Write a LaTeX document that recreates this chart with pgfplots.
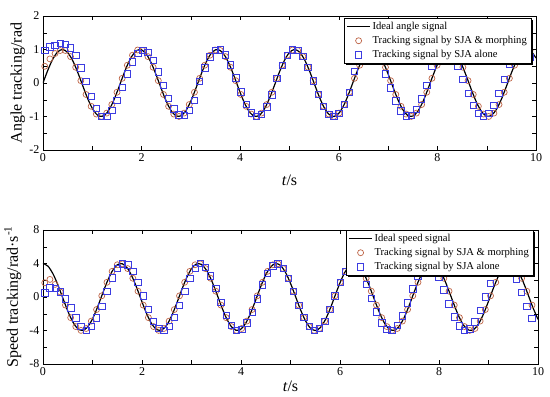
\documentclass[border=0pt]{standalone}
\usepackage{fontspec}
\setmainfont{Liberation Serif}
\usepackage{pgfplots}
\pgfplotsset{compat=1.18}
\usepackage{pgfplotstable}
\definecolor{cred}{RGB}{190,100,70}
\definecolor{cblue}{RGB}{60,60,225}

\pgfplotstableread{
t a s
0.0 0 4
0.1 0.3894 3.684
0.2 0.7174 2.787
0.3 0.9320 1.450
0.4 0.9996 -0.117
0.5 0.9093 -1.664
0.6 0.6755 -2.950
0.7 0.3350 -3.769
0.8 -0.0584 -3.993
0.9 -0.4425 -3.587
1.0 -0.7568 -2.614
1.1 -0.9516 -1.229
1.2 -0.9962 0.350
1.3 -0.8835 1.874
1.4 -0.6313 3.102
1.5 -0.2794 3.841
1.6 0.1165 3.973
1.7 0.4941 3.478
1.8 0.7937 2.434
1.9 0.9679 1.005
2.0 0.9894 -0.582
2.1 0.8546 -2.077
2.2 0.5849 -3.244
2.3 0.2229 -3.899
2.4 -0.1743 -3.939
2.5 -0.5440 -3.356
2.6 -0.8278 -2.244
2.7 -0.9809 -0.778
2.8 -0.9792 0.812
2.9 -0.8228 2.273
3.0 -0.5366 3.376
3.1 -0.1656 3.945
3.2 0.2315 3.891
3.3 0.5920 3.223
3.4 0.8592 2.047
3.5 0.9906 0.547
3.6 0.9657 -1.039
3.7 0.7883 -2.461
3.8 0.4864 -3.495
3.9 0.1078 -3.977
4.0 -0.2879 -3.831
4.1 -0.6381 -3.080
4.2 -0.8876 -1.843
4.3 -0.9969 -0.315
4.4 -0.9489 1.263
4.5 -0.7511 2.642
4.6 -0.4346 3.602
4.7 -0.0496 3.995
4.8 0.3433 3.757
4.9 0.6819 2.925
5.0 0.9128 1.634
5.1 0.9998 0.082
5.2 0.9288 -1.482
5.3 0.7111 -2.812
5.4 0.3813 -3.698
5.5 -0.0088 -4.000
5.6 -0.3975 -3.670
5.7 -0.7235 -2.761
5.8 -0.9352 -1.417
5.9 -0.9993 0.152
6.0 -0.9056 1.696
6.1 -0.6690 2.973
6.2 -0.3267 3.780
6.3 0.0672 3.991
6.4 0.4505 3.571
6.5 0.7626 2.588
6.6 0.9541 1.197
6.7 0.9953 -0.385
6.8 0.8793 -1.905
6.9 0.6244 -3.125
7.0 0.2709 -3.850
7.1 -0.1254 -3.968
7.2 -0.5018 -3.460
7.3 -0.7990 -2.405
7.4 -0.9701 -0.971
7.5 -0.9880 0.617
7.6 -0.8499 2.108
7.7 -0.5777 3.265
7.8 -0.2142 3.907
7.9 0.1831 3.932
8.0 0.5514 3.337
8.1 0.8329 2.214
8.2 0.9826 0.742
8.3 0.9773 -0.847
8.4 0.8177 -2.302
8.5 0.5291 -3.394
8.6 0.1568 -3.950
8.7 -0.2401 -3.883
8.8 -0.5992 -3.202
8.9 -0.8637 -2.016
9.0 -0.9918 -0.512
9.1 -0.9633 1.074
9.2 -0.7828 2.489
9.3 -0.4786 3.512
9.4 -0.0989 3.980
9.5 0.2964 3.820
9.6 0.6450 3.057
9.7 0.8914 1.813
9.8 0.9976 0.279
9.9 0.9460 -1.296
10.0 0.7451 -2.668
}\ideal

\pgfplotstableread{
t ac as sc ss
0.035 0.50 0.98 1.70 0.50
0.140 0.72 1.08 2.10 1.10
0.244 0.88 1.13 1.50 1.00
0.349 0.97 1.18 0.60 0.60
0.454 0.970 1.15 -0.968 -0.20
0.559 0.788 1.05 -2.463 -1.30
0.663 0.470 0.83 -3.532 -2.50
0.768 0.070 0.45 -3.990 -3.50
0.873 -0.342 0.05 -3.759 -4.00
0.977 -0.695 -0.39 -2.877 -3.50
1.082 -0.927 -0.75 -1.498 -2.50
1.187 -0.999 -0.99 0.140 -1.15
1.292 -0.899 -0.99 1.754 0.70
1.396 -0.643 -0.82 3.064 2.30
1.501 -0.276 -0.52 3.845 3.40
1.606 0.139 -0.136 3.961 3.961
1.711 0.530 0.270 3.392 3.845
1.815 0.829 0.630 2.237 3.064
1.920 0.985 0.881 0.694 1.754
2.025 0.970 0.979 -0.968 0.140
2.129 0.788 0.909 -2.463 -1.498
2.234 0.470 0.681 -3.532 -2.877
2.339 0.070 0.335 -3.990 -3.759
2.444 -0.342 -0.068 -3.759 -3.990
2.548 -0.695 -0.460 -2.877 -3.532
2.653 -0.927 -0.772 -1.498 -2.463
2.758 -0.999 -0.951 0.140 -0.968
2.862 -0.899 -0.965 1.754 0.694
2.967 -0.643 -0.812 3.064 2.237
3.072 -0.276 -0.519 3.845 3.392
3.177 0.139 0.052 3.961 3.994
3.281 0.530 0.454 3.392 3.564
3.386 0.829 0.777 2.237 2.517
3.491 0.985 0.966 0.694 1.035
3.595 0.970 0.988 -0.968 -0.626
3.700 0.788 0.839 -2.463 -2.178
3.805 0.470 0.545 -3.532 -3.355
3.910 0.070 0.156 -3.990 -3.951
4.014 -0.342 -0.259 -3.759 -3.864
4.119 -0.695 -0.629 -2.877 -3.108
4.224 -0.927 -0.891 -1.498 -1.816
4.328 -0.999 -0.999 0.140 -0.209
4.433 -0.899 -0.934 1.754 1.434
4.538 -0.643 -0.707 3.064 2.828
4.643 -0.276 -0.358 3.845 3.734
4.747 0.139 0.139 3.961 3.961
4.852 0.530 0.530 3.392 3.392
4.957 0.829 0.829 2.237 2.237
5.061 0.985 0.985 0.694 0.694
5.166 0.970 0.970 -0.968 -0.968
5.271 0.788 0.788 -2.463 -2.463
5.376 0.470 0.470 -3.532 -3.532
5.480 0.070 0.070 -3.990 -3.990
5.585 -0.342 -0.342 -3.759 -3.759
5.690 -0.695 -0.695 -2.877 -2.877
5.795 -0.927 -0.927 -1.498 -1.498
5.899 -0.999 -0.999 0.140 0.140
6.004 -0.899 -0.899 1.754 1.754
6.109 -0.643 -0.643 3.064 3.064
6.213 -0.276 -0.276 3.845 3.845
6.318 0.139 0.342 3.961 3.759
6.423 0.530 0.695 3.392 2.877
6.528 0.829 0.927 2.237 1.498
6.632 0.985 0.999 0.694 -0.140
6.737 0.970 0.899 -0.968 -1.754
6.842 0.788 0.643 -2.463 -3.064
6.947 0.470 0.276 -3.532 -3.845
7.051 0.070 -0.139 -3.990 -3.961
7.156 -0.342 -0.530 -3.759 -3.392
7.261 -0.695 -0.829 -2.877 -2.237
7.365 -0.927 -0.985 -1.498 -0.694
7.470 -0.999 -0.970 0.140 0.968
7.575 -0.899 -0.788 1.754 2.463
7.680 -0.643 -0.470 3.064 3.532
7.784 -0.276 -0.070 3.845 3.990
7.889 0.139 0.500 3.961 3.464
7.994 0.530 0.809 3.392 2.351
8.098 0.829 0.978 2.237 0.832
8.203 0.985 0.978 0.694 -0.832
8.308 0.970 0.809 -0.968 -2.351
8.413 0.788 0.500 -2.463 -3.464
8.517 0.470 0.105 -3.532 -3.978
8.622 0.070 -0.309 -3.990 -3.804
8.727 -0.342 -0.669 -3.759 -2.972
8.831 -0.695 -0.914 -2.877 -1.627
8.936 -0.927 -1.000 -1.498 0.000
9.041 -0.999 -0.914 0.140 1.627
9.146 -0.899 -0.669 1.754 2.972
9.250 -0.643 -0.309 3.064 3.804
9.355 -0.276 0.105 3.845 3.978
9.460 0.139 0.559 3.961 3.316
9.565 0.530 0.848 3.392 2.120
9.669 0.829 0.990 2.237 0.557
9.774 0.985 0.961 0.694 -1.103
9.879 0.970 0.766 -0.968 -2.571
}\marks

\pgfplotsset{
  myaxis/.style={
    scale only axis, height=134pt, xmin=0, xmax=10,
    xtick={0,2,...,10}, minor x tick num=1,
    tick align=inside, major tick length=4pt, minor tick length=4pt,
    every tick/.style={black, line width=0.4pt},
    axis line style={line width=0.5pt},
    ticklabel style={font=\fontsize{12}{14}\selectfont},
    /pgf/number format/assume math mode=true,
    label style={font=\fontsize{16}{19}\selectfont},
    xlabel={\textit{t}/s},
    xlabel style={at={(axis description cs:0.5,0)}, anchor=base, yshift=-36pt},
    legend cell align=left,
    legend style={font=\fontsize{10.6}{12}\selectfont, draw=black, fill=white,
      line width=0.5pt, anchor=north east, inner sep=2pt, row sep=1.2pt},
  },
  lineleg/.style={legend image code/.code={\draw[black, line width=1pt] (0pt,0pt) -- (23pt,0pt);}},
  circleg/.style={legend image code/.code={\draw[cred, line width=0.7pt] (11.5pt,0pt) circle[radius=3pt];}},
  sqrleg/.style={legend image code/.code={\draw[cblue, line width=0.7pt] (8.3pt,-3.2pt) rectangle (14.7pt,3.2pt);}},
  circ/.style={only marks, mark=o, mark size=3pt, color=cred, mark options={draw=cred, line width=0.7pt}},
  sqr/.style={only marks, mark=square, mark size=3.2pt, color=cblue, mark options={draw=cblue, line width=0.7pt}},
}

\begin{document}
\begin{tikzpicture}
\useasboundingbox (0,0) rectangle (550pt,397pt);
\begin{axis}[myaxis, at={(43pt,247pt)}, anchor=south west, width=493pt,
  ymin=-2, ymax=2, ytick={-2,-1,0,1,2}, minor y tick num=1,
  ylabel={Angle tracking/rad},
  ylabel style={at={(axis description cs:-0.0436,0.5)}, anchor=base},
  legend style={at={(0.990,0.985)}, name=legA}]
\addplot[black, line width=1.2pt, smooth, lineleg] table[x=t,y=a]{\ideal};
\addlegendentry{Ideal angle signal}
\addplot[circ, circleg] table[x=t,y=ac]{\marks};
\addlegendentry{Tracking signal by SJA \& morphing}
\addplot[sqr, sqrleg] table[x=t,y=as]{\marks};
\addlegendentry{Tracking signal by SJA alone}
\end{axis}
\draw[black, line width=2pt] ([shift={(1pt,-2pt)}]legA.north east) -- ([shift={(1pt,-1pt)}]legA.south east) -- ([shift={(2pt,-1pt)}]legA.south west);
\begin{axis}[myaxis, at={(43pt,33pt)}, anchor=south west, width=495pt,
  ymin=-8, ymax=8, ytick={-8,-4,0,4,8}, minor y tick num=1,
  ylabel={Speed tracking/rad·s\textsuperscript{-1}},
  ylabel style={at={(axis description cs:-0.0505,0.5)}, anchor=base},
  xlabel style={yshift=9pt},
  legend style={at={(0.990,1.0)}, name=legB}]
\addplot[black, line width=1.2pt, smooth, lineleg] table[x=t,y=s]{\ideal};
\addlegendentry{Ideal speed signal}
\addplot[circ, circleg] table[x=t,y=sc]{\marks};
\addlegendentry{Tracking signal by SJA \& morphing}
\addplot[sqr, sqrleg] table[x=t,y=ss]{\marks};
\addlegendentry{Tracking signal by SJA alone}
\end{axis}
\draw[black, line width=2pt] ([shift={(1pt,-2pt)}]legB.north east) -- ([shift={(1pt,-1pt)}]legB.south east) -- ([shift={(2pt,-1pt)}]legB.south west);
\end{tikzpicture}
\end{document}
